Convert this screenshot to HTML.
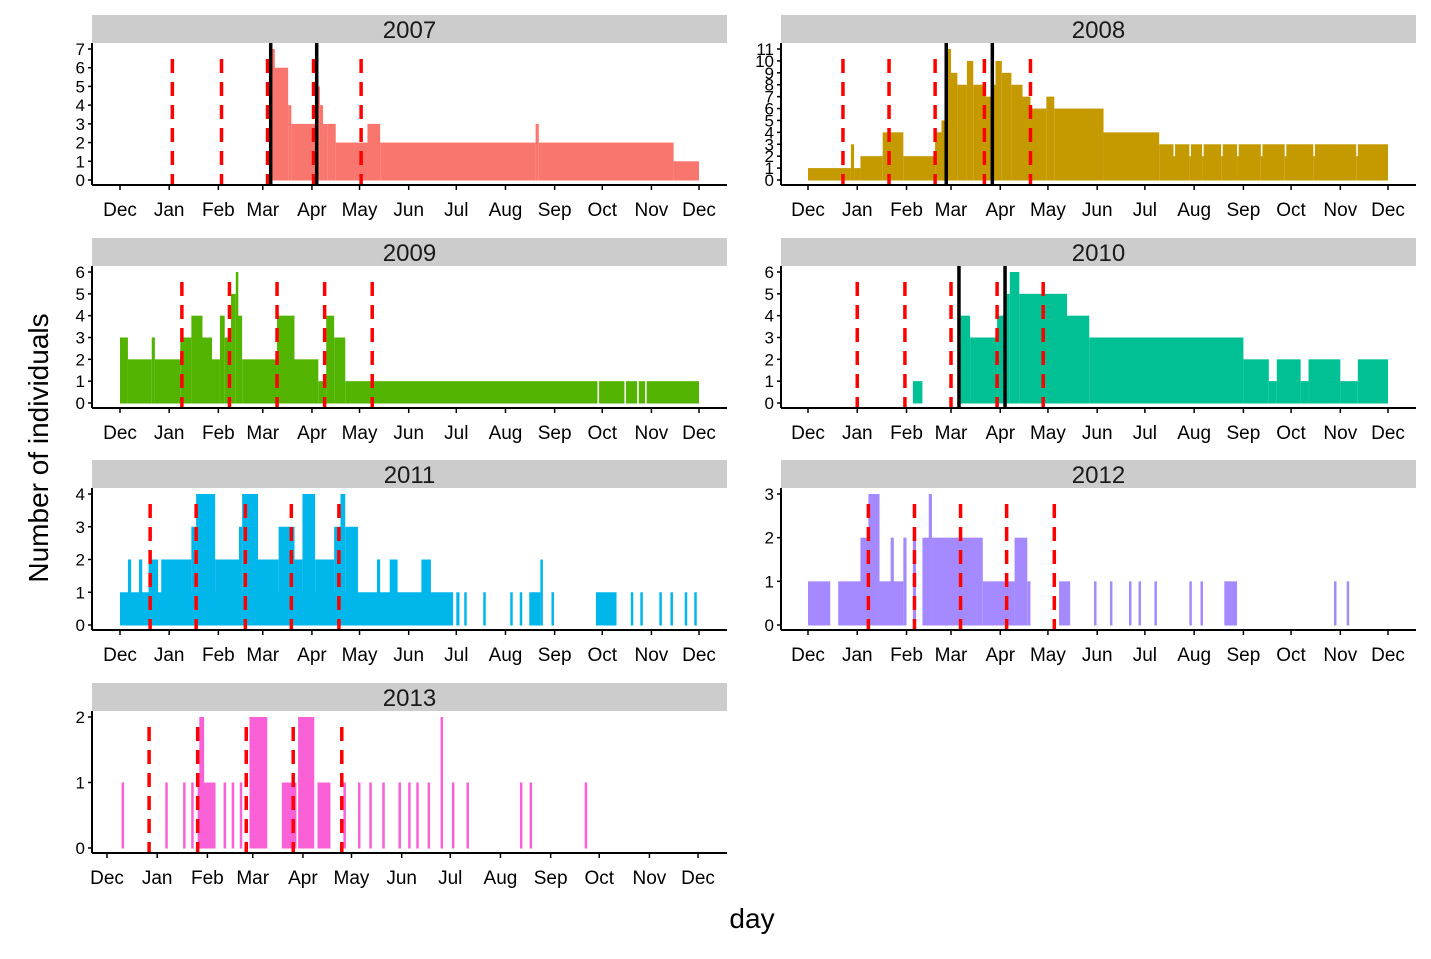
<!DOCTYPE html>
<html><head><meta charset="utf-8"><style>
body{margin:0;background:#fff;}
svg text{font-family:"Liberation Sans",sans-serif;}
</style></head><body>
<svg id="c" width="1431" height="954" xmlns="http://www.w3.org/2000/svg"></svg>
<script>
const monthLabels=["Dec","Jan","Feb","Mar","Apr","May","Jun","Jul","Aug","Sep","Oct","Nov","Dec"];
const monthDays=[0,31,62,90,121,151,182,212,243,274,304,335,365];
const years=["2007","2008","2009","2010","2011","2012","2013"];
const colors=["#F8766D","#C49A00","#53B400","#00C094","#00B6EB","#A58AFF","#FB61D7"];
const yMax=[7,11,6,6,4,3,2];
const redLines=[[33,64,93,122,152],[22,51,80,111,140],[39,69,99,129,159],[31,61,90,119,148],[19,48,79,108,138],[38,67,96,125,155],[26,56,86,115,145]];
const blackLines=[[95,124],[87,116],[],[95,124],[],[],[]];
const seg2007=[[96,97,7],[97,106,6],[106,108,4],[108,124,3],[124,126,5],[126,128,4],[128,131,3],[131,136,3],[136,156,2],[156,164,3],[164,262,2],[262,264,3],[264,349,2],[349,365,1]];
const seg2008=[[0,27,1],[27,29,3],[29,33,1],[33,47,2],[47,60,4],[60,80,2],[80,84,4],[84,87,5],[87,90,11],[90,94,9],[94,100,8],[100,104,10],[104,112,8],[112,116,7],[116,118,8],[118,122,10],[122,128,9],[128,135,8],[135,140,7],[140,150,6],[150,155,7],[155,186,6],[186,221,4],[221,230,3],[230,231,2],[231,240,3],[240,241,2],[241,248,3],[248,249,2],[249,260,3],[260,261,2],[261,270,3],[270,271,2],[271,285,3],[285,286,2],[286,300,3],[300,301,2],[301,318,3],[318,319,2],[319,345,3],[345,346,2],[346,365,3]];
const seg2009=[[0,5,3],[5,20,2],[20,22,3],[22,38,2],[38,45,3],[45,52,4],[52,58,3],[58,63,2],[63,66,4],[66,70,3],[70,73,5],[73,74,6],[74,77,4],[77,99,2],[99,110,4],[110,125,2],[125,130,1],[130,135,4],[135,142,3],[142,301,1],[302,318,1],[319,326,1],[327,331,1],[332,365,1]];
const seg2010=[[66,72,1],[96,102,4],[102,119,3],[119,125,4],[125,127,5],[127,133,6],[133,163,5],[163,177,4],[177,274,3],[274,290,2],[290,295,1],[295,310,2],[310,315,1],[315,335,2],[335,346,1],[346,365,2]];
const seg2011=[[0,210,1],[5,7,2],[12,14,2],[18,24,2],[26,45,2],[45,48,3],[48,60,4],[60,75,2],[75,77,3],[77,87,4],[87,100,2],[100,110,3],[110,115,2],[115,123,4],[123,135,2],[135,139,3],[139,142,4],[142,150,3],[162,164,2],[170,175,2],[190,196,2],[212,214,1],[217,218,1],[229,230,1],[246,247,1],[252,253,1],[258,265,1],[265,266,2],[272,273,1],[300,313,1],[322,323,1],[328,329,1],[340,341,1],[347,348,1],[356,357,1],[362,363,1]];
const seg2012=[[0,14,1],[19,39,1],[33,39,2],[38,45,3],[45,60,1],[52,54,2],[60,62,2],[66,68,2],[72,77,2],[76,78,3],[78,110,2],[110,130,1],[130,138,2],[138,140,1],[158,165,1],[180,181,1],[190,191,1],[202,203,1],[208,209,1],[218,219,1],[240,241,1],[247,248,1],[262,270,1],[331,332,1],[339,340,1]];
const seg2013=[[9,10,1],[36,37,1],[47,48,1],[52,53,1],[56,67,1],[57,60,2],[72,73,1],[77,78,1],[82,83,1],[88,99,2],[108,117,1],[118,128,2],[130,138,1],[146,147,1],[155,156,1],[162,163,1],[170,171,1],[180,181,1],[186,187,1],[191,192,1],[198,199,1],[206,207,2],[213,214,1],[222,223,1],[255,256,1],[261,262,1],[295,296,1]];
const segs=[seg2007,seg2008,seg2009,seg2010,seg2011,seg2012,seg2013];

const NS="http://www.w3.org/2000/svg";
const svg=document.getElementById('c');
function mk(tag,attrs,parent){const e=document.createElementNS(NS,tag);for(const k in attrs)e.setAttribute(k,attrs[k]);(parent||svg).appendChild(e);return e;}
const panels=[
 {axL:92,axR:727,x0:120,x1:699,top:15},
 {axL:781,axR:1416,x0:808,x1:1388,top:15},
 {axL:92,axR:727,x0:120,x1:699,top:238},
 {axL:781,axR:1416,x0:808,x1:1388,top:238},
 {axL:92,axR:727,x0:120,x1:699,top:460},
 {axL:781,axR:1416,x0:808,x1:1388,top:460},
 {axL:92,axR:727,x0:107,x1:698,top:683}];
panels.forEach((p,i)=>{
 const g=mk('g',{});
 
 
 const stripTop=p.top, plotTop=p.top+28, plotBot=p.top+170;
 const y0=plotBot-5, yTop=plotTop+6;
 const xs=d=>p.x0+d*(p.x1-p.x0)/365;
 const ys=v=>y0-v*(y0-yTop)/yMax[i];
 const st=mk('rect',{x:p.axL,y:stripTop,width:p.axR-p.axL,height:28,fill:'#cccccc'},g);
 
 
 const tt=mk('text',{x:(p.axL+p.axR)/2,y:stripTop+23,'text-anchor':'middle','font-size':24,fill:'#1a1a1a'},g);tt.textContent=years[i];
 
 
 segs[i].forEach(s=>{
  const x=xs(s[0]);let w=xs(s[1])-x;if(w<2.5)w=2.5;
  const r=mk('rect',{x:x,y:ys(s[2]),width:w,height:y0-ys(s[2])+0.5,fill:colors[i]},g);
  
  
 });
 redLines[i].forEach(d=>{
  const l=mk('line',{x1:xs(d),x2:xs(d),y1:plotTop+16,y2:plotBot,stroke:'#ff0000','stroke-width':3.5,'stroke-dasharray':'14 9'},g);
  
  
 });
 blackLines[i].forEach(d=>{
  const l=mk('line',{x1:xs(d),x2:xs(d),y1:plotTop,y2:plotBot,stroke:'#000','stroke-width':3.5},g);
  
  
 });
 mk('line',{x1:p.axL,x2:p.axL,y1:plotTop,y2:plotBot,stroke:'#000','stroke-width':2},g);
 mk('line',{x1:p.axL,x2:p.axR,y1:plotBot,y2:plotBot,stroke:'#000','stroke-width':2},g);
 for(let v=0;v<=yMax[i];v++){
  mk('line',{x1:p.axL-4,x2:p.axL,y1:ys(v),y2:ys(v),stroke:'#000','stroke-width':1.5},g);
  const t=mk('text',{x:p.axL-7,y:ys(v)+6,'text-anchor':'end','font-size':17,fill:'#000'},g);t.textContent=v;
  
  
 }
 monthDays.forEach((d,k)=>{
  mk('line',{x1:xs(d),x2:xs(d),y1:plotBot,y2:plotBot+5,stroke:'#000','stroke-width':1.5},g);
  const t=mk('text',{x:xs(d),y:plotBot+31,'text-anchor':'middle','font-size':19,fill:'#000'},g);t.textContent=monthLabels[k];
  
  
 });
});
const xt=mk('text',{x:752,y:928,'text-anchor':'middle','font-size':28,fill:'#000'});xt.textContent='day';


const yt=mk('text',{x:48,y:448,'text-anchor':'middle','font-size':28,fill:'#000',transform:'rotate(-90 48 448)'});yt.textContent='Number of individuals';


</script>
</body></html>
